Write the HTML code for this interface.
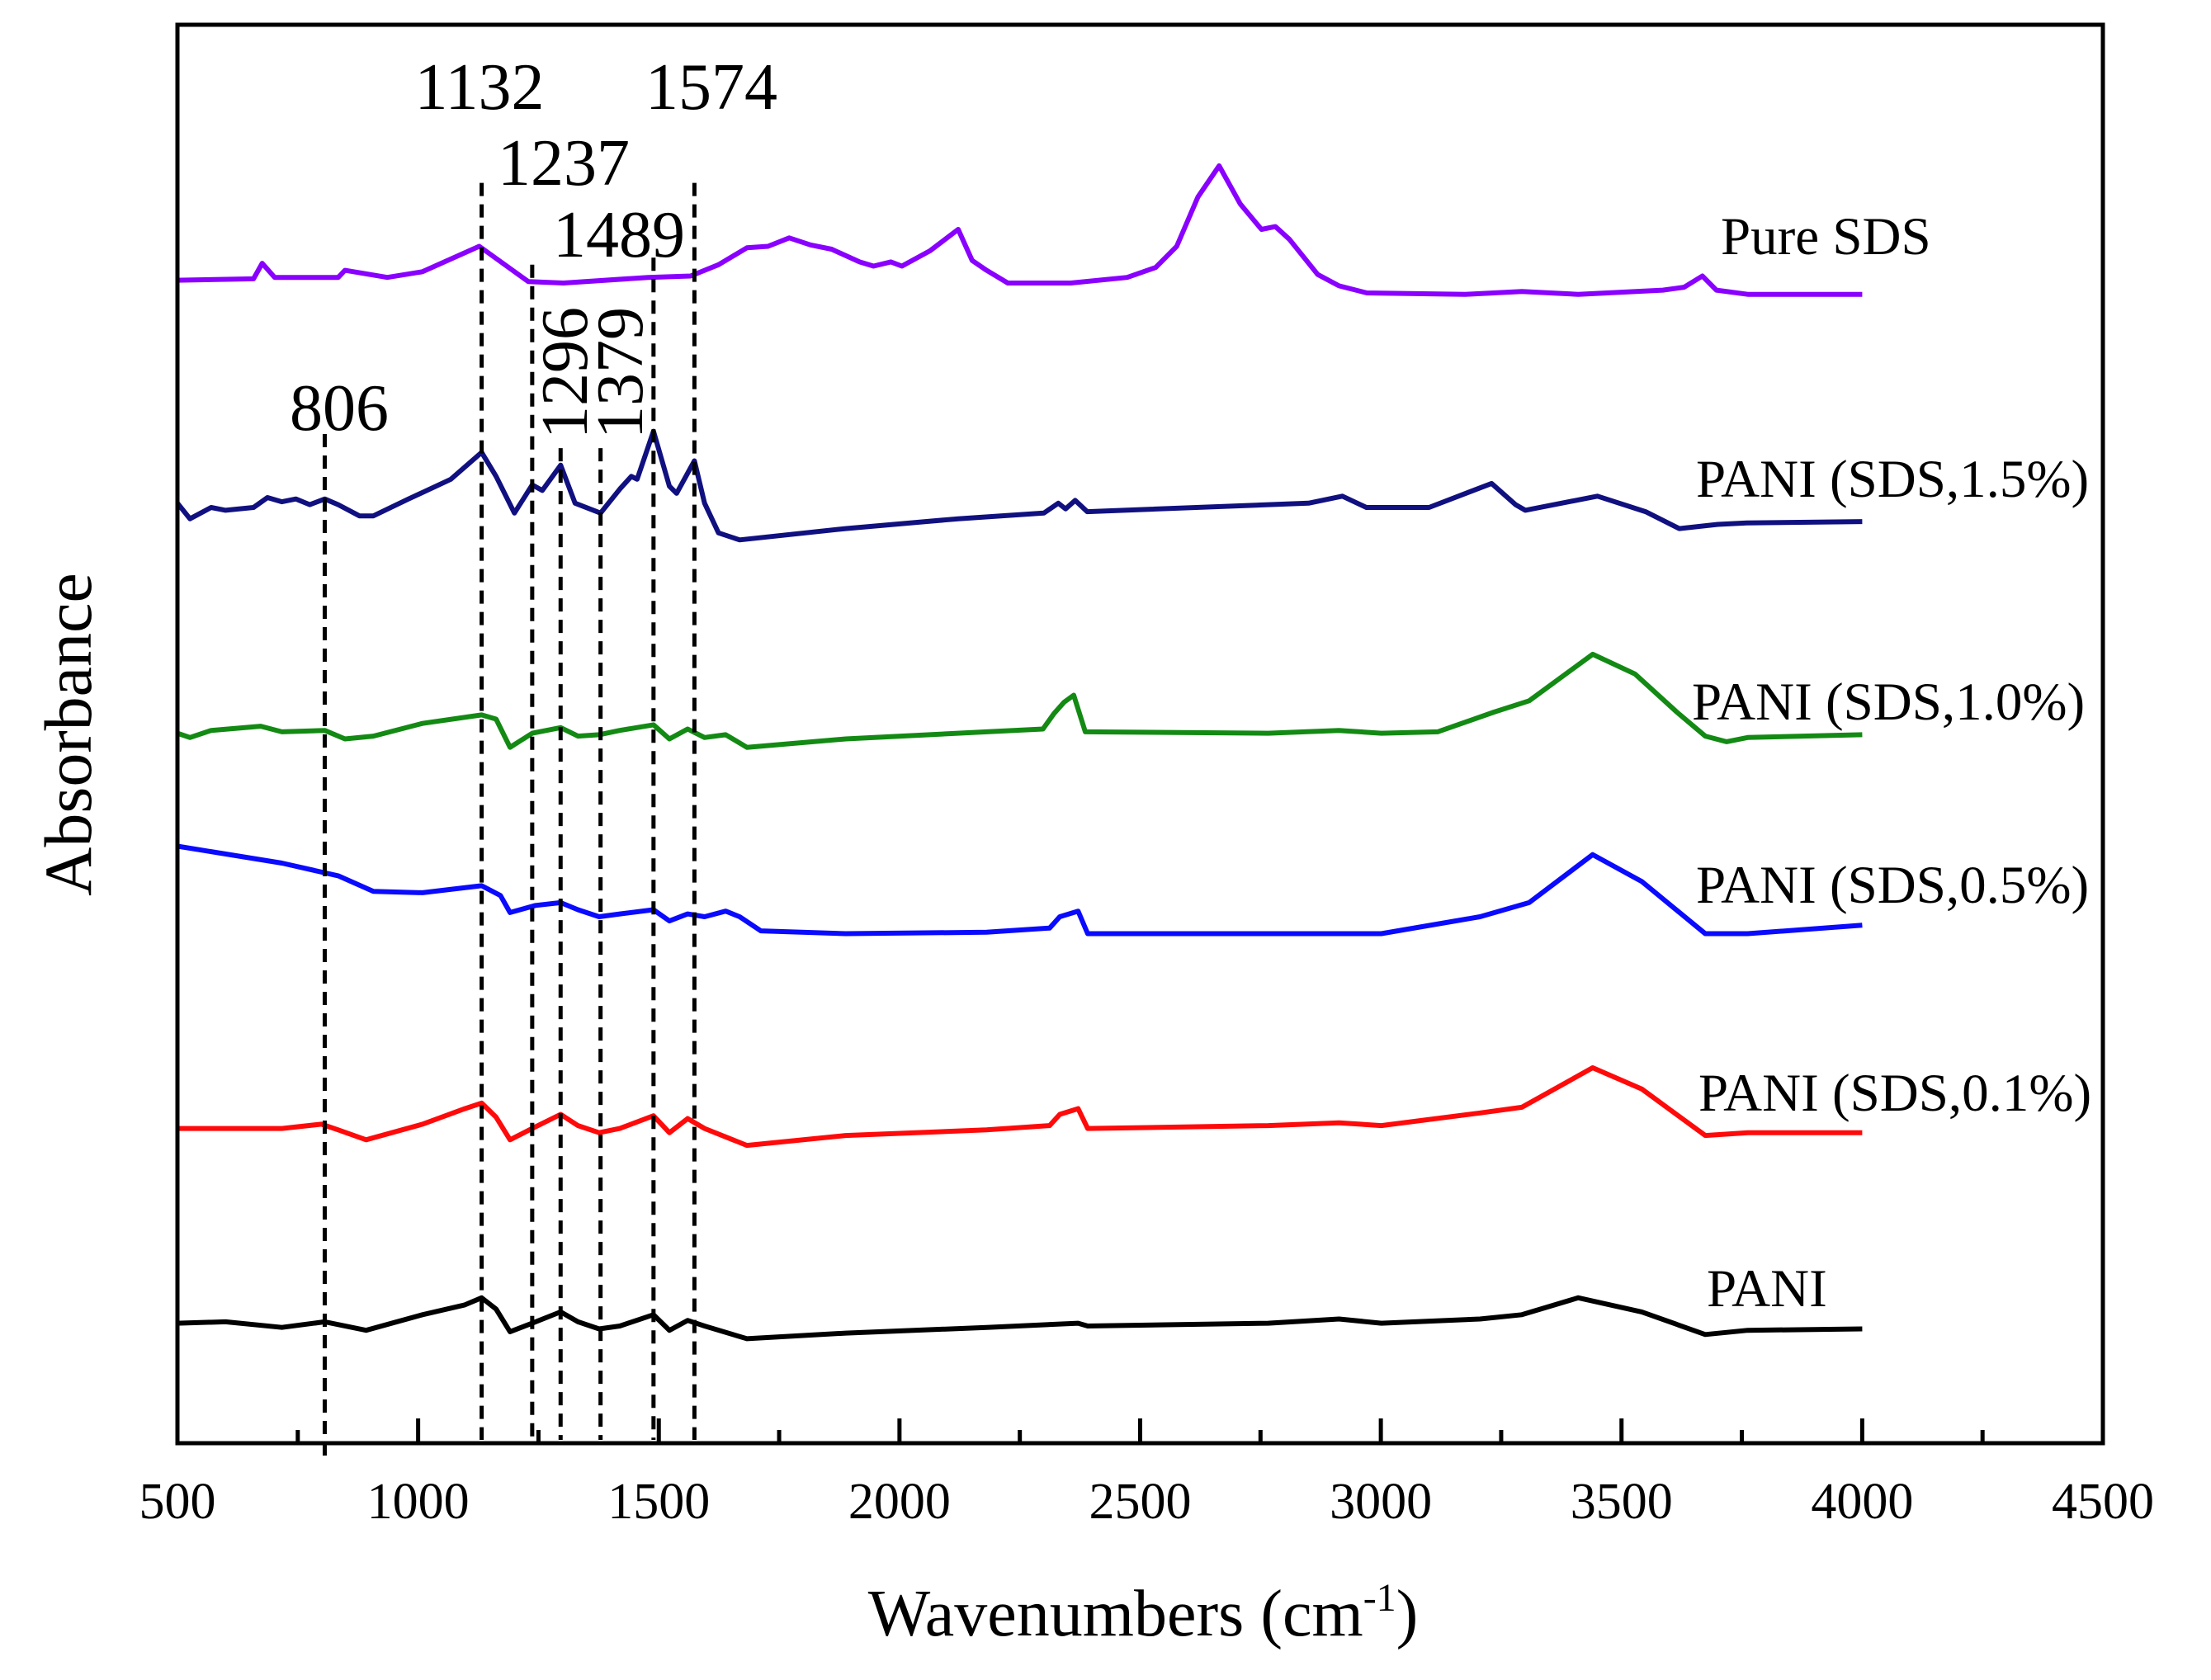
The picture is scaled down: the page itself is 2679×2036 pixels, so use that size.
<!DOCTYPE html>
<html><head><meta charset="utf-8"><style>
html,body{margin:0;padding:0;background:#fff;}
svg{display:block;font-family:"Liberation Serif",serif;}
</style></head><body>
<svg id="chart" width="2679" height="2036" viewBox="0 0 2679 2036">
<g id="series-layer"></g>
<g id="marker-layer"></g>
<rect x="215" y="30" width="2333" height="1719" fill="none" stroke="#000" stroke-width="5"/>
<g id="tick-layer"></g>
<text x="1385" y="1982" font-size="80" text-anchor="middle">Wavenumbers (cm<tspan dy="-30" font-size="48">-1</tspan><tspan dy="30">)</tspan></text>
<text transform="translate(110,890) rotate(-90)" font-size="82" text-anchor="middle">Absorbance</text>
</svg>
<script>
// ---- data ----
const xTicks = [500,1000,1500,2000,2500,3000,3500,4000,4500];
const xMinorTicks = [750,1250,1750,2250,2750,3250,3750,4250];
const peakPositions = [806,1132,1237,1296,1379,1489,1574];
const peakLabels = ["806","1132","1237","1296","1379","1489","1574"];
const peakTopValues = [715,893,835,705,705,840,893];
const seriesNames = ["Pure SDS","PANI (SDS,1.5%)","PANI (SDS,1.0%)","PANI (SDS,0.5%)","PANI (SDS,0.1%)","PANI"];
const seriesColors = ["#8a00ff","#101080","#138a13","#0a0aff","#ff0a0a","#000000"];

const sdsWave = [500,658,676,702,834,848,936,1009,1127,1229,1302,1478,1566,1624,1683,1727,1771,1815,1859,1917,1946,1982,2005,2064,2122,2151,2181,2225,2356,2473,2532,2576,2620,2664,2708,2752,2781,2810,2869,2913,2971,3176,3293,3410,3586,3630,3668,3697,3762,4000];
const sdsAbs  = [824,825,836,826,826,831,826,830,848,823,822,826,827,835,847,848,854,849,846,837,834,837,834,845,860,838,831,822,822,826,833,848,883,905,878,860,862,853,828,820,815,814,816,814,817,819,827,817,814,814];

const p15Wave = [500,526,570,600,658,687,717,746,775,806,834,878,907,980,1068,1132,1162,1200,1237,1258,1296,1326,1379,1419,1443,1455,1489,1522,1537,1574,1595,1624,1668,1888,2122,2300,2330,2345,2365,2390,2850,2920,2970,3100,3230,3280,3300,3450,3550,3620,3700,3760,4000];
const p15Abs  = [666,655,663,661,663,670,667,669,665,669,665,657,657,669,683,702,685,659,679,675,693,666,659,676,685,683,717,678,673,696,666,645,640,648,655,659,666,662,668,660,666,671,663,663,680,665,661,671,660,648,651,652,653];

const p10Wave = [500,526,570,673,717,806,848,907,1009,1132,1162,1191,1237,1296,1332,1376,1419,1489,1522,1560,1595,1639,1683,1888,2181,2298,2321,2342,2362,2386,2766,2913,3001,3118,3235,3308,3440,3528,3615,3674,3718,3762,4000];
const p10Abs  = [503,500,505,508,504,505,499,501,510,516,513,493,503,507,501,502,505,509,499,506,500,502,493,499,504,506,517,525,530,504,503,505,503,504,518,526,559,545,518,501,497,500,502];

const p05Wave = [500,717,834,907,1009,1132,1171,1191,1244,1296,1332,1376,1419,1489,1522,1560,1595,1639,1668,1712,1888,2181,2312,2333,2371,2391,2766,3001,3206,3308,3440,3542,3674,3762,4000];
const p05Abs  = [423,411,402,391,390,395,388,376,381,383,378,373,375,378,370,375,373,377,373,363,361,362,365,373,377,361,361,361,373,383,417,398,361,361,367];

const p01Wave = [500,717,799,834,892,1009,1097,1132,1162,1191,1237,1296,1332,1376,1419,1489,1522,1560,1595,1683,1888,2181,2312,2333,2371,2391,2766,2913,3001,3206,3293,3440,3542,3674,3762,4000];
const p01Abs  = [223,223,226,222,215,226,237,241,231,215,223,233,225,220,223,232,220,230,223,211,218,222,225,233,237,223,225,227,225,234,238,266,251,218,220,220];

const paniWave = [500,600,717,806,892,1009,1097,1132,1162,1191,1237,1296,1332,1376,1419,1489,1522,1560,1595,1683,1888,2181,2371,2391,2766,2913,3001,3206,3293,3410,3542,3674,3762,4000];
const paniAbs  = [85,86,82,86,80,91,98,103,95,79,85,93,86,81,83,91,80,87,83,74,78,82,85,83,85,88,85,88,91,103,93,77,80,81];

const seriesWaves = [sdsWave,p15Wave,p10Wave,p05Wave,p01Wave,paniWave];
const seriesAbs = [sdsAbs,p15Abs,p10Abs,p05Abs,p01Abs,paniAbs];

// ---- scales ----
const X0=215, X1=2548, Y0=1749, Y1=30;
function xScale(w){ return X0 + (w-500)*(X1-X0)/4000; }
function yScale(v){ return Y0 - v*(Y0-Y1)/1005; }
const NS="http://www.w3.org/2000/svg";
function mk(tag, attrs){ const e=document.createElementNS(NS,tag); for(const k in attrs) e.setAttribute(k,attrs[k]); return e; }

// series
const sLayer=document.getElementById('series-layer');
const labelPos=[[2085,308],[2055,602],[2050,872],[2055,1094],[2058,1346],[2068,1583]];
for(let i=0;i<seriesNames.length;i++){
  const w=seriesWaves[i], a=seriesAbs[i];
  let d='';
  for(let j=0;j<w.length;j++){ d+=(j?'L':'M')+xScale(w[j]).toFixed(1)+','+yScale(a[j]).toFixed(1); }
  const p=mk('path',{d:d,fill:'none',stroke:seriesColors[i],'stroke-width':6,'stroke-linejoin':'round'});
  
  
  sLayer.appendChild(p);
  const t=mk('text',{x:labelPos[i][0],y:labelPos[i][1],'font-size':65,fill:'#000'});
  t.textContent=seriesNames[i];
  
  
  sLayer.appendChild(t);
}

// peak markers
const mLayer=document.getElementById('marker-layer');
const labelSpecs=[[411,521,0],[581,132,0],[683,224,0],[711,452,1],[778,452,1],[750,311,0],[862,132,0]];
for(let i=0;i<peakPositions.length;i++){
  const x=xScale(peakPositions[i]);
  const yEnd = i===0 ? 1764 : 1745;
  const l=mk('line',{x1:x,x2:x,y1:yScale(peakTopValues[i]),y2:yEnd,stroke:'#000','stroke-width':5,'stroke-dasharray':'16,10'});
  
  
  mLayer.appendChild(l);
  const s=labelSpecs[i];
  const t = s[2] ? mk('text',{transform:'translate('+s[0]+','+s[1]+') rotate(-90)','font-size':80,'text-anchor':'middle'})
                 : mk('text',{x:s[0],y:s[1],'font-size':80,'text-anchor':'middle'});
  t.textContent=peakLabels[i];
  
  
  mLayer.appendChild(t);
}

// ticks
const tLayer=document.getElementById('tick-layer');
for(const v of xTicks){
  const x=xScale(v);
  const l=mk('line',{x1:x,x2:x,y1:Y0,y2:Y0-30,stroke:'#000','stroke-width':5});
  
  
  tLayer.appendChild(l);
  const t=mk('text',{x:x,y:1840,'font-size':62,'text-anchor':'middle'});
  t.textContent=String(v);
  
  
  tLayer.appendChild(t);
}
for(const v of xMinorTicks){
  const x=xScale(v);
  const l=mk('line',{x1:x,x2:x,y1:Y0,y2:Y0-16,stroke:'#000','stroke-width':5});
  
  
  tLayer.appendChild(l);
}
</script>
</body></html>
